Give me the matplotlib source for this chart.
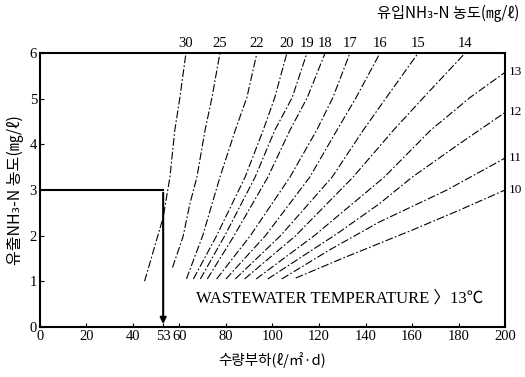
import numpy as np
import matplotlib
matplotlib.use("Agg")
import matplotlib.pyplot as plt

plt.rcParams['font.family'] = ['Liberation Serif', 'Noto Sans CJK KR', 'DejaVu Sans']

# influent NH3-N concentration (mg/l) for each curve
curve_labels = [30, 25, 22, 20, 19, 18, 17, 16, 15, 14, 13, 12, 11, 10]
# points, bottom -> top
curve_x = [
    [45, 49, 53, 55.9, 58, 60.2, 62.8],
    [57, 61.5, 64.5, 67.5, 71, 74, 77.4],
    [63, 70, 77.4, 84, 89, 93.3],
    [66, 76, 88.2, 96, 101, 106.2],
    [69, 79.5, 92.5, 101, 108.5, 114.8],
    [72, 83.5, 98, 107.5, 115, 122.6],
    [76, 90.5, 107.5, 119, 126, 133.3],
    [80, 97, 116, 127.7, 136, 146.2],
    [84, 103.5, 125.6, 139, 149, 162.6],
    [88, 110, 134.6, 152, 165, 182.8],
    [93, 118, 148, 168, 185, 200],
    [98, 128, 146, 160, 180, 200],
    [104, 125, 146, 175, 200],
    [110, 130, 160, 180, 200],
]
curve_y = [
    [1.0, 1.7, 2.4, 3.28, 4.31, 5.03, 6.0],
    [1.3, 1.97, 2.7, 3.28, 4.31, 5.03, 6.0],
    [1.05, 2.0, 3.28, 4.31, 5.03, 6.0],
    [1.05, 2.0, 3.28, 4.31, 5.03, 6.0],
    [1.05, 2.0, 3.28, 4.31, 5.03, 6.0],
    [1.05, 2.0, 3.28, 4.31, 5.03, 6.0],
    [1.05, 2.0, 3.28, 4.31, 5.03, 6.0],
    [1.05, 2.0, 3.28, 4.31, 5.03, 6.0],
    [1.05, 2.0, 3.28, 4.31, 5.03, 6.0],
    [1.05, 2.0, 3.28, 4.31, 5.03, 6.0],
    [1.05, 2.0, 3.28, 4.31, 5.03, 5.58],
    [1.05, 2.05, 2.7, 3.28, 4.0, 4.70],
    [1.05, 1.7, 2.3, 3.0, 3.70],
    [1.07, 1.5, 2.12, 2.55, 3.0],
]

x_ticks = [0, 20, 40, 53, 60, 80, 100, 120, 140, 160, 180, 200]
y_ticks = [0, 1, 2, 3, 4, 5, 6]
design_load = 53
design_effluent = 3

fig = plt.figure(figsize=(5.25, 3.77), dpi=100)
ax = fig.add_axes([0.076, 0.133, 0.886, 0.726])

for lab, xs, ys in zip(curve_labels, curve_x, curve_y):
    ax.plot(xs, ys, color='black', lw=0.8, ls=(0, (7, 2, 1.5, 2)))
    if ys[-1] >= 6:
        ax.text(xs[-1], 6.08, str(lab), ha='center', va='bottom', fontsize=10.5)
    else:
        ax.text(201.5, ys[-1], str(lab), ha='left', va='center', fontsize=9.5)

# design point box
ax.plot([0, design_load], [design_effluent, design_effluent], color='black', lw=1.5)
ax.annotate('', xy=(design_load, 0), xytext=(design_load, design_effluent),
            arrowprops=dict(arrowstyle='-|>', color='black', lw=1.5, mutation_scale=9))

ax.text(67, 0.62, 'WASTEWATER TEMPERATURE \u300913\u2103', fontsize=12,
        ha='left', va='center', family=['Liberation Serif', 'Noto Sans CJK KR'])

ax.set_xlim(0, 200)
ax.set_ylim(0, 6)
ax.set_xticks(x_ticks)
ax.set_yticks(y_ticks)
ax.tick_params(direction='in', length=3, labelsize=10.5, pad=2)
for s in ax.spines.values():
    s.set_linewidth(1.5)

ax.set_xlabel('수량부하(ℓ/㎡·d)', family=['Noto Sans CJK KR', 'DejaVu Sans'], fontsize=10.5, labelpad=7)
ax.set_ylabel('유출NH₃-N 농도(㎎/ℓ)', family=['Noto Sans CJK KR', 'DejaVu Sans'], fontsize=11.5, labelpad=4)
fig.text(0.99, 0.965, '유입NH₃-N 농도(㎎/ℓ)', ha='right', va='center',
         family=['Noto Sans CJK KR', 'DejaVu Sans'], fontsize=11)

fig.savefig('out.png', dpi=100)
